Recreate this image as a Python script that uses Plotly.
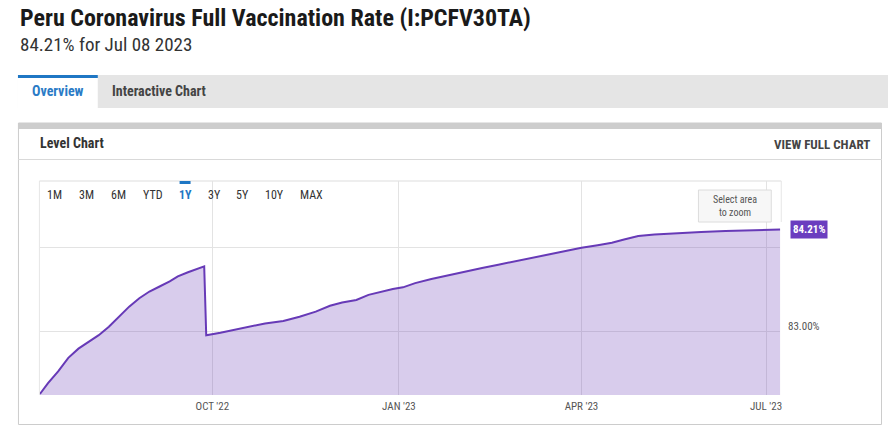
import plotly.graph_objects as go

# ---------------- data ----------------
dates = [
    "2022-07-08", "2022-07-12", "2022-07-17", "2022-07-22", "2022-07-27",
    "2022-08-01", "2022-08-06", "2022-08-11", "2022-08-16", "2022-08-21",
    "2022-08-26", "2022-08-31", "2022-09-05", "2022-09-10", "2022-09-14",
    "2022-09-19", "2022-09-27", "2022-09-28", "2022-10-05", "2022-10-11",
    "2022-10-19", "2022-10-27", "2022-11-05", "2022-11-13", "2022-11-21",
    "2022-11-28", "2022-12-04", "2022-12-11", "2022-12-17", "2022-12-22",
    "2022-12-29", "2023-01-03", "2023-01-09", "2023-01-17", "2023-01-26",
    "2023-02-03", "2023-02-11", "2023-02-19", "2023-02-27", "2023-03-09",
    "2023-03-17", "2023-03-26", "2023-04-01", "2023-04-09", "2023-04-16",
    "2023-04-22", "2023-04-29", "2023-05-07", "2023-05-19", "2023-05-30",
    "2023-06-11", "2023-06-24", "2023-07-08",
]
values = [
    82.25, 82.38, 82.52, 82.68, 82.79,
    82.87, 82.95, 83.05, 83.17, 83.29,
    83.39, 83.47, 83.53, 83.59, 83.65,
    83.70, 83.77, 82.95, 82.98, 83.01,
    83.05, 83.09, 83.12, 83.17, 83.23,
    83.30, 83.34, 83.37, 83.43, 83.46,
    83.50, 83.52, 83.57, 83.62, 83.67,
    83.71, 83.75, 83.79, 83.83, 83.88,
    83.92, 83.96, 83.99, 84.02, 84.05,
    84.09, 84.13, 84.15, 84.17, 84.18,
    84.19, 84.20, 84.21,
]
x_tick_vals = ["2022-10-01", "2023-01-01", "2023-04-01", "2023-07-01"]
x_tick_text = ["OCT '22", "JAN '23", "APR '23", "JUL '23"]
y_grid_vals = [83, 84]
y_label_val = 83
y_label_text = "83.00%"
range_buttons = ["1M", "3M", "6M", "YTD", "1Y", "3Y", "5Y", "10Y", "MAX"]
active_button = "1Y"
title_text = "Peru Coronavirus Full Vaccination Rate (I:PCFV30TA)"
subtitle_text = "84.21% for Jul 08 2023"
tabs = ["Overview", "Interactive Chart"]
last_label = "84.21%"

# ---------------- layout helpers ----------------
W, H = 890, 435
def px(x):
    return x / W
def py(y):
    return 1 - y / H

COND = "Roboto Condensed, Liberation Sans Narrow, DejaVu Sans Condensed, Roboto, sans-serif"
PURPLE = "#673ab7"
FILL = "rgba(103,58,183,0.26)"
GRID = "#e3e3e3"
BLUE = "#1f77c4"

button_x_px = [55, 87, 119, 153, 185.5, 214.5, 243.5, 275.5, 312.5]

fig = go.Figure()
fig.add_trace(go.Scatter(
    x=dates, y=values, mode="lines",
    line=dict(color=PURPLE, width=2),
    fill="tozeroy", fillcolor=FILL,
    hoverinfo="skip",
))

shapes = []
# tab bar
shapes.append(dict(type="rect", xref="paper", yref="paper", x0=px(18), x1=px(890), y0=py(108), y1=py(75),
                   fillcolor="#e5e5e5", line=dict(width=0), layer="below"))
shapes.append(dict(type="rect", xref="paper", yref="paper", x0=px(18), x1=px(98), y0=py(108), y1=py(78),
                   fillcolor="white", line=dict(width=0), layer="below"))
shapes.append(dict(type="rect", xref="paper", yref="paper", x0=px(18), x1=px(98), y0=py(78), y1=py(75),
                   fillcolor=BLUE, line=dict(width=0), layer="below"))
# panel
shapes.append(dict(type="rect", xref="paper", yref="paper", x0=px(18.5), x1=px(883.5), y0=py(424.5), y1=py(123),
                   fillcolor="rgba(0,0,0,0)", line=dict(color="#cccccc", width=1), layer="below"))
shapes.append(dict(type="rect", xref="paper", yref="paper", x0=px(18), x1=px(884), y0=py(129), y1=py(123),
                   fillcolor="#cdcdcd", line=dict(width=0), layer="below"))
shapes.append(dict(type="line", xref="paper", yref="paper", x0=px(18), x1=px(884), y0=py(159.5), y1=py(159.5),
                   line=dict(color="#d9d9d9", width=1), layer="below"))
# plot frame
shapes.append(dict(type="line", xref="paper", yref="paper", x0=px(39.5), x1=px(783), y0=py(181), y1=py(181),
                   line=dict(color="#dddddd", width=1), layer="below"))
shapes.append(dict(type="line", xref="paper", yref="paper", x0=px(39.5), x1=px(39.5), y0=py(181), y1=py(395),
                   line=dict(color="#e6e6e6", width=1), layer="below"))
shapes.append(dict(type="line", xref="paper", yref="paper", x0=px(783), x1=px(783), y0=py(181), y1=py(222),
                   line=dict(color="#e6e6e6", width=1), layer="below"))
# active range indicator
shapes.append(dict(type="rect", xref="paper", yref="paper", x0=px(180), x1=px(191), y0=py(184), y1=py(181),
                   fillcolor=BLUE, line=dict(width=0)))
# select-area box
shapes.append(dict(type="rect", xref="paper", yref="paper", x0=px(700), x1=px(773), y0=py(222), y1=py(190),
                   fillcolor="#f7f7f7", line=dict(color="#dcdcdc", width=1)))
# end-value tag arrow
shapes.append(dict(type="path", xref="x", yref="y", xsizemode="pixel", ysizemode="pixel",
                   xanchor=dates[-1], yanchor=values[-1],
                   path="M1,0 L11,8 L11,-8 Z", fillcolor="#6a3dbf", line=dict(width=0)))

ann = []
ann.append(dict(text="<b>" + title_text + "</b>", x=px(18), y=py(18), xref="paper", yref="paper",
                xanchor="left", yanchor="middle", showarrow=False,
                font=dict(family=COND, size=24, color="#1a1a1a")))
ann.append(dict(text=subtitle_text, x=px(18), y=py(45), xref="paper", yref="paper",
                xanchor="left", yanchor="middle", showarrow=False,
                font=dict(family=COND, size=19, color="#333333")))
ann.append(dict(text="<b>" + tabs[0] + "</b>", x=px(58), y=py(91), xref="paper", yref="paper",
                xanchor="center", yanchor="middle", showarrow=False,
                font=dict(family=COND, size=14, color="#2a7bc6")))
ann.append(dict(text="<b>" + tabs[1] + "</b>", x=px(110), y=py(91), xref="paper", yref="paper",
                xanchor="left", yanchor="middle", showarrow=False,
                font=dict(family=COND, size=14, color="#444444")))
ann.append(dict(text="<b>Level Chart</b>", x=px(38), y=py(143), xref="paper", yref="paper",
                xanchor="left", yanchor="middle", showarrow=False,
                font=dict(family=COND, size=14, color="#333333")))
ann.append(dict(text="<b>VIEW FULL CHART</b>", x=px(874), y=py(144), xref="paper", yref="paper",
                xanchor="right", yanchor="middle", showarrow=False,
                font=dict(family=COND, size=13, color="#444444")))
for lbl, bx in zip(range_buttons, button_x_px):
    active = lbl == active_button
    ann.append(dict(text=("<b>" + lbl + "</b>") if active else lbl, x=px(bx), y=py(195),
                    xref="paper", yref="paper", xanchor="center", yanchor="middle", showarrow=False,
                    font=dict(family=COND, size=12, color=BLUE if active else "#333333")))
ann.append(dict(text="Select area<br>to zoom", x=px(736.5), y=py(206), xref="paper", yref="paper",
                xanchor="center", yanchor="middle", showarrow=False,
                font=dict(family=COND, size=10, color="#555555")))
ann.append(dict(text=y_label_text, x=px(788), y=y_label_val, xref="paper", yref="y",
                xanchor="left", yanchor="bottom", showarrow=False, yshift=-4,
                font=dict(family=COND, size=11, color="#555555")))
ann.append(dict(text="<b>" + last_label + "</b>", x=dates[-1], y=values[-1], xref="x", yref="y",
                xanchor="left", yanchor="middle", showarrow=False, xshift=10,
                bgcolor="#6a3dbf", borderpad=2,
                font=dict(family=COND, size=11, color="white")))

fig.update_layout(
    width=W, height=H, margin=dict(l=0, r=0, t=0, b=0),
    paper_bgcolor="white", plot_bgcolor="rgba(0,0,0,0)",
    showlegend=False, shapes=shapes, annotations=ann,
    xaxis=dict(domain=[px(40), px(782)], range=[dates[0], dates[-1]], type="date",
               tickvals=x_tick_vals, ticktext=x_tick_text, showgrid=True, gridcolor=GRID,
               zeroline=False, showline=False, ticks="", ticklabelstandoff=3,
               tickfont=dict(family=COND, size=11, color="#555555"), fixedrange=True),
    yaxis=dict(domain=[py(395), py(181)], range=[82.238, 84.786],
               tickvals=y_grid_vals, showticklabels=False, showgrid=True, gridcolor=GRID,
               zeroline=False, showline=False, ticks="", fixedrange=True),
)

fig.write_html("out.html", config={"displayModeBar": False})
